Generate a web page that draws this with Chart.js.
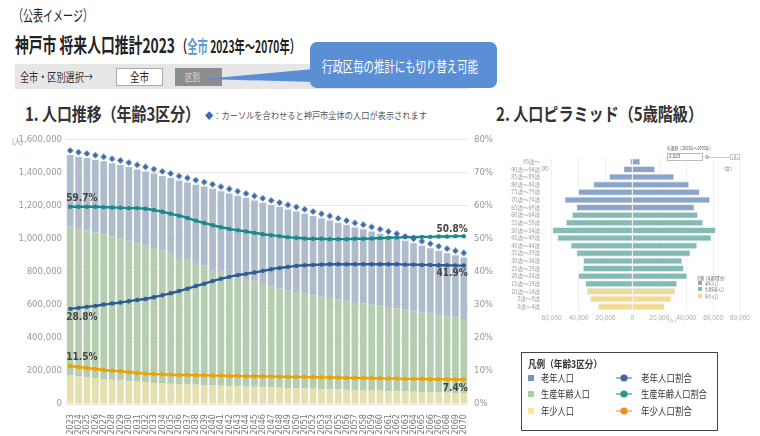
<!DOCTYPE html>
<html><head><meta charset="utf-8">
<script src="https://cdn.jsdelivr.net/npm/chart.js@4.4.0/dist/chart.umd.min.js"></script>
<style>
html,body{margin:0;padding:0;background:#fff;}
body{width:760px;height:436px;position:relative;overflow:hidden;font-family:"Noto Sans CJK JP",sans-serif;color:#333;}
.t{position:absolute;white-space:nowrap;transform-origin:0 50%;line-height:1;display:inline-block;}
.b{font-weight:bold;}
canvas{position:absolute;}
.box{position:absolute;box-sizing:border-box;}
</style></head><body>

<!-- header -->
<div class="t" data-w="80" style="left:13px;top:7px;font-size:15px;color:#222;">（公表イメージ）</div>
<div class="t b" data-w="160" style="left:15px;top:35px;font-size:20px;color:#222;">神戸市 将来人口推計2023</div>
<div class="t b" data-w="123" style="left:177px;top:37px;font-size:17px;color:#222;">（<span style="color:#5b9bd5">全市</span> 2023年～2070年）</div>

<div class="box" style="left:15px;top:64px;width:455px;height:25px;background:#e6e6e6;"></div>
<div class="t" data-w="73" style="left:20px;top:71px;font-size:12px;color:#333;">全市・区別選択→</div>
<div class="box" style="left:116px;top:68px;width:47px;height:18px;background:#fff;border:1px solid #aaa;"></div>
<div class="t" data-w="19" style="left:130px;top:71px;font-size:12px;color:#222;">全市</div>
<div class="box" style="left:175px;top:68px;width:47px;height:18px;background:#8d8d8d;"></div>
<div class="t" data-w="15" style="left:185px;top:72px;font-size:10px;color:#ddd;">区別</div>
<svg class="box" style="left:0;top:0;" width="520" height="100"><polygon points="204,79 314,69 314,82" fill="#5a8ed5"/></svg>
<div class="box" style="left:310px;top:42px;width:187px;height:46px;background:#5a8ed5;border-radius:7px;"></div>
<div class="t" data-w="156" style="left:322px;top:58px;font-size:15px;color:#fff;">行政区毎の推計にも切り替え可能</div>

<!-- chart 1 headings -->
<div class="t b" data-w="175" style="left:25px;top:104px;font-size:18px;color:#333;">1. 人口推移（年齢3区分）</div>
<div class="t" data-w="222" style="left:205px;top:111px;font-size:9px;color:#555;"><span style="color:#3d6aa8">◆</span>：カーソルを合わせると神戸市全体の人口が表示されます</div>
<div class="t" data-w="11" style="left:12px;top:137px;font-size:8px;color:#888;">(人)</div>

<!-- chart 2 headings -->
<div class="t b" data-w="207" style="left:496px;top:104px;font-size:18px;color:#333;">2. 人口ピラミッド（5歳階級）</div>

<canvas id="c1" width="500" height="308" style="left:0;top:128px;width:500px;height:308px;"></canvas>
<canvas id="c2" width="263" height="190" style="left:497px;top:140px;width:263px;height:190px;"></canvas>

<!-- pyramid extras -->
<div class="t" data-w="46" style="left:667px;top:145px;font-size:5px;color:#555;">年選択（2023年～2070年）</div>
<div class="box" style="left:667px;top:153px;width:36px;height:8px;border:1px solid #bbb;background:#fff;"></div>
<div class="t" style="left:669px;top:155px;font-size:4.5px;color:#555;font-family:'Liberation Sans',sans-serif;">2,023</div>
<div class="box" style="left:709px;top:157px;width:21px;height:1px;background:#ccc;"></div>
<div class="box" style="left:705px;top:155px;width:4px;height:4px;border:1px solid #999;border-radius:50%;background:#fff;"></div>
<div class="box" style="left:730px;top:154px;width:5px;height:6px;border:1px solid #ccc;font-size:5px;line-height:4px;text-align:center;color:#666;">‹</div>
<div class="box" style="left:735px;top:154px;width:5px;height:6px;border:1px solid #ccc;font-size:5px;line-height:4px;text-align:center;color:#666;">›</div>
<div class="t" data-w="8" style="left:541px;top:165px;font-size:5px;color:#888;">(男)</div>
<div class="t" data-w="8" style="left:724px;top:165px;font-size:5px;color:#888;">(女)</div>
<div class="t" data-w="30" style="left:697px;top:275px;font-size:5px;color:#555;">凡例（年齢3区分）</div>
<div class="box" style="left:698px;top:281px;width:4px;height:4px;background:#8ba4c9;"></div>
<div class="t" data-w="13" style="left:705px;top:281px;font-size:4.5px;color:#666;">老年人口</div>
<div class="box" style="left:698px;top:287px;width:4px;height:4px;background:#85bbb5;"></div>
<div class="t" data-w="19" style="left:705px;top:287px;font-size:4.5px;color:#666;">生産年齢人口</div>
<div class="box" style="left:698px;top:294px;width:4px;height:4px;background:#f3da8c;"></div>
<div class="t" data-w="13" style="left:705px;top:294px;font-size:4.5px;color:#666;">年少人口</div>
<div class="t" data-w="8" style="left:668px;top:317px;font-size:5px;color:#999;">(人)</div>

<!-- bottom legend -->
<div class="box" style="left:521px;top:352px;width:197px;height:79px;border:1.5px solid #444;background:#fff;"></div>
<div class="t b" data-w="74" style="left:528px;top:359px;font-size:10px;color:#333;">凡例（年齢3区分）</div>
<div class="box" style="left:528px;top:375px;width:6px;height:6px;background:#6f95c8;"></div>
<div class="t" data-w="33" style="left:541px;top:373px;font-size:10px;color:#333;">老年人口</div>
<div class="box" style="left:528px;top:391px;width:6px;height:6px;background:#9fd39c;"></div>
<div class="t" data-w="49" style="left:541px;top:389px;font-size:10px;color:#333;">生産年齢人口</div>
<div class="box" style="left:528px;top:408px;width:6px;height:6px;background:#ffe49a;"></div>
<div class="t" data-w="33" style="left:541px;top:406px;font-size:10px;color:#333;">年少人口</div>
<svg class="box" style="left:610px;top:370px;" width="30" height="50">
 <line x1="6" y1="8" x2="22" y2="8" stroke="#7d9cc9" stroke-width="1.5"/><circle cx="14" cy="8" r="3.6" fill="#3c68a8"/>
 <line x1="6" y1="24" x2="22" y2="24" stroke="#6ab0a8" stroke-width="1.5"/><circle cx="14" cy="24" r="3.6" fill="#2f948a"/>
 <line x1="6" y1="41" x2="22" y2="41" stroke="#f6b36f" stroke-width="1.5"/><circle cx="14" cy="41" r="3.6" fill="#f58a22"/>
</svg>
<div class="t" data-w="51" style="left:641px;top:373px;font-size:10px;color:#333;">老年人口割合</div>
<div class="t" data-w="66" style="left:641px;top:389px;font-size:10px;color:#333;">生産年齢人口割合</div>
<div class="t" data-w="51" style="left:641px;top:406px;font-size:10px;color:#333;">年少人口割合</div>

<script>
// ---- data: population trend ----
const years = ['2023','2024','2025','2026','2027','2028','2029','2030','2031','2032','2033','2034','2035','2036','2037','2038','2039','2040','2041','2042','2043','2044','2045','2046','2047','2048','2049','2050','2051','2052','2053','2054','2055','2056','2057','2058','2059','2060','2061','2062','2063','2064','2065','2066','2067','2068','2069','2070'];
const totalPop = [1507000,1497000,1489000,1479000,1469000,1457000,1447000,1434000,1420000,1408000,1395000,1381000,1368000,1353000,1341000,1328000,1316000,1303000,1288000,1275000,1261000,1247000,1232000,1218000,1205000,1192000,1178000,1165000,1151000,1138000,1124000,1111000,1097000,1083000,1069000,1058000,1045000,1031000,1017000,1004000,988000,973000,958000,943000,928000,913000,900000,887000];
const oldPop = [434000,436000,438000,439000,442000,443000,444000,446000,447000,448000,451000,454000,458000,463000,468000,474000,479000,485000,488000,491000,492000,491000,490000,491000,492000,491000,489000,487000,483000,479000,474000,470000,464000,458000,452000,448000,442000,436000,430000,425000,417000,411000,403000,397000,390000,383000,377000,372000];
const workPop = [900000,893000,889000,883000,876000,867000,860000,850000,839000,830000,817000,803000,788000,771000,755000,738000,722000,706000,689000,676000,662000,651000,638000,625000,613000,602000,592000,582000,574000,567000,559000,552000,545000,539000,533000,526000,521000,515000,509000,502000,496000,488000,482000,475000,468000,462000,456000,449000];
const youngPop = [173000,168000,162000,157000,151000,147000,143000,138000,134000,130000,127000,124000,122000,119000,118000,116000,115000,112000,111000,108000,107000,105000,104000,102000,100000,99000,97000,96000,94000,92000,91000,89000,88000,86000,84000,84000,82000,80000,78000,77000,75000,74000,73000,71000,70000,68000,67000,66000];
const oldRate = [28.8,29.1,29.4,29.7,30.1,30.4,30.7,31.1,31.5,31.8,32.3,32.9,33.5,34.2,34.9,35.7,36.4,37.2,37.9,38.5,39.0,39.4,39.8,40.3,40.8,41.2,41.5,41.8,42.0,42.1,42.2,42.3,42.3,42.3,42.3,42.3,42.3,42.3,42.3,42.3,42.2,42.2,42.1,42.1,42.0,42.0,41.9,41.9];
const workRate = [59.7,59.7,59.7,59.7,59.6,59.5,59.4,59.3,59.3,59.1,58.7,58.2,57.6,57.0,56.3,55.5,54.8,54.1,53.5,53.0,52.6,52.2,51.8,51.4,51.1,50.8,50.5,50.3,50.1,50.0,50.0,49.9,49.9,49.9,50.0,50.0,50.1,50.2,50.3,50.4,50.5,50.5,50.6,50.6,50.7,50.7,50.8,50.8];
const youngRate = [11.5,11.2,10.9,10.6,10.3,10.1,9.9,9.6,9.4,9.2,9.1,9.0,8.9,8.8,8.8,8.7,8.7,8.6,8.6,8.5,8.5,8.4,8.4,8.4,8.3,8.3,8.2,8.2,8.2,8.1,8.1,8.0,8.0,7.9,7.9,7.9,7.8,7.8,7.7,7.7,7.6,7.6,7.6,7.5,7.5,7.5,7.4,7.4];
const popTicks = [0,200000,400000,600000,800000,1000000,1200000,1400000,1600000];
const rateTicks = [0,10,20,30,40,50,60,70,80];

// ---- data: population pyramid (2023) ----
const ageGroups = ['95歳～','90歳～94歳','85歳～89歳','80歳～84歳','75歳～79歳','70歳～74歳','65歳～69歳','60歳～64歳','55歳～59歳','50歳～54歳','45歳～49歳','40歳～44歳','35歳～39歳','30歳～34歳','25歳～29歳','20歳～24歳','15歳～19歳','10歳～14歳','5歳～9歳','0歳～4歳'];
const malePop = [1700,6700,17300,29100,40300,50400,41700,45000,49400,59500,55800,45900,41700,36600,36800,40300,35100,33800,31400,25400];
const femalePop = [5900,16800,31100,42200,50100,57800,46200,48700,52600,62000,58800,48200,43200,37100,38300,40800,33300,31900,29100,24000];
const pyrTicks = [-60000,-40000,-20000,0,20000,40000,60000,80000];

const NARROW = "'Liberation Sans Narrow','DejaVu Sans Condensed','Roboto',sans-serif";

function fit(){
  document.querySelectorAll('[data-w]').forEach(el=>{
    el.style.transform='none';
    const w = el.getBoundingClientRect().width;
    if (w>0) el.style.transform = 'scaleX(' + (parseFloat(el.dataset.w)/w) + ')';
  });
}

function draw(){
  fit();
  // diamond marker drawn slightly above its anchor
  const dia = document.createElement('canvas');
  dia.width = 7; dia.height = 16;
  const g = dia.getContext('2d');
  g.fillStyle = '#3d6aa8';
  g.beginPath(); g.moveTo(3.5,0.3); g.lineTo(6.7,3.5); g.lineTo(3.5,6.7); g.lineTo(0.3,3.5); g.closePath(); g.fill();

  const lineDs = (label, data, color) => ({
    type:'line', label, data, yAxisID:'y2', borderColor:color, backgroundColor:color,
    borderWidth:2.4, pointRadius:2.2, pointBorderWidth:0, tension:0.3, order:1
  });

  const labelPlugin = {
    id:'endLabels',
    afterDatasetsDraw(chart){
      const ctx = chart.ctx;
      ctx.save();
      ctx.font = "bold 10px " + NARROW;
      ctx.fillStyle = '#444';
      ctx.textBaseline = 'middle';
      const spec = [[0,-9,9],[1,-8,-7],[2,9,8]]; // dataset, first dy, last dy
      spec.forEach(([di,d1,d2])=>{
        const meta = chart.getDatasetMeta(di);
        const data = chart.data.datasets[di].data;
        const p0 = meta.data[0], pn = meta.data[data.length-1];
        ctx.textAlign='left';
        ctx.fillText(data[0].toFixed(1)+'%', p0.x-4, p0.y+d1);
        ctx.textAlign='right';
        ctx.fillText(data[data.length-1].toFixed(1)+'%', pn.x+4, pn.y+d2);
      });
      ctx.restore();
    }
  };

  new Chart(document.getElementById('c1'), {
    data:{
      labels: years,
      datasets:[
        lineDs('年少人口割合', youngRate, '#eda200'),
        lineDs('生産年齢人口割合', workRate, '#178a8c'),
        lineDs('老年人口割合', oldRate, '#2f5c98'),
        {type:'line', label:'総人口', data: totalPop, yAxisID:'yT', showLine:false, pointStyle: dia, pointRadius:4, order:0},
        {type:'bar', label:'年少人口', data: youngPop, backgroundColor:'#e4e0b0', stack:'p', order:5, categoryPercentage:1, barPercentage:0.8},
        {type:'bar', label:'生産年齢人口', data: workPop, backgroundColor:'#b7cdb1', stack:'p', order:5, categoryPercentage:1, barPercentage:0.8},
        {type:'bar', label:'老年人口', data: oldPop, backgroundColor:'#afbccb', stack:'p', order:5, categoryPercentage:1, barPercentage:0.8}
      ]
    },
    options:{
      responsive:false, animation:false, maintainAspectRatio:false,
      layout:{padding:{top:9,left:0,right:0,bottom:0}},
      plugins:{legend:{display:false}, tooltip:{enabled:false}},
      scales:{
        x:{stacked:true, grid:{display:false}, border:{display:false},
           ticks:{autoSkip:false, minRotation:90, maxRotation:90, padding:2, color:'#777', font:{family:NARROW, size:9}},
           afterFit(s){ s.height = 32; }},
        y:{stacked:true, min:0, max:1600000, position:'left',
           afterBuildTicks(s){ s.ticks = popTicks.map(v=>({value:v})); },
           grid:{color:'#e8e8e8', drawTicks:false}, border:{display:false},
           ticks:{padding:4, color:'#999', font:{family:NARROW, size:9.5}, callback:v=>v.toLocaleString('en-US')},
           afterFit(s){ s.width = 66; }},
        y2:{min:0, max:80, position:'right',
           afterBuildTicks(s){ s.ticks = rateTicks.map(v=>({value:v})); },
           grid:{display:false, drawTicks:false}, border:{display:false},
           ticks:{padding:6, color:'#999', font:{family:NARROW, size:9.5}, callback:v=>v+'%'},
           afterFit(s){ s.width = 32; }},
        yT:{display:false, min:0, max:1600000}
      }
    },
    plugins:[labelPlugin]
  });

  const ageColors = ageGroups.map((a,i)=> i<7 ? '#8ba4c9' : (i<17 ? '#85bbb5' : '#f3da8c'));
  new Chart(document.getElementById('c2'), {
    type:'bar',
    data:{
      labels: ageGroups,
      datasets:[
        {label:'男', data: malePop.map(v=>-v), backgroundColor: ageColors, borderColor:'#e4e7ea', borderWidth:0.8, categoryPercentage:0.88, barPercentage:1},
        {label:'女', data: femalePop, backgroundColor: ageColors, borderColor:'#e4e7ea', borderWidth:0.8, categoryPercentage:0.88, barPercentage:1}
      ]
    },
    options:{
      indexAxis:'y', responsive:false, animation:false, maintainAspectRatio:false,
      layout:{padding:{top:18,right:20,left:0,bottom:0}},
      plugins:{legend:{display:false}, tooltip:{enabled:false}},
      scales:{
        x:{stacked:true, min:-65000, max:80000,
           afterBuildTicks(s){ s.ticks = pyrTicks.map(v=>({value:v})); },
           grid:{color:'#f0f0f0', drawTicks:false}, border:{display:false},
           ticks:{padding:4, color:'#aaa', font:{family:"'Liberation Sans',sans-serif", size:6.5}, callback:v=>Math.abs(v).toLocaleString('en-US')},
           afterFit(s){ s.height = 19.5; }},
        y:{stacked:true, grid:{display:false, drawTicks:false}, border:{display:false},
           ticks:{autoSkip:false, padding:5, color:'#999', font:{family:"'Noto Sans CJK JP',sans-serif", size:5.5}},
           afterFit(s){ s.width = 48; }}
      }
    }
  });
}

if (document.fonts && document.fonts.ready) { document.fonts.ready.then(draw); } else { draw(); }
</script>
</body></html>
